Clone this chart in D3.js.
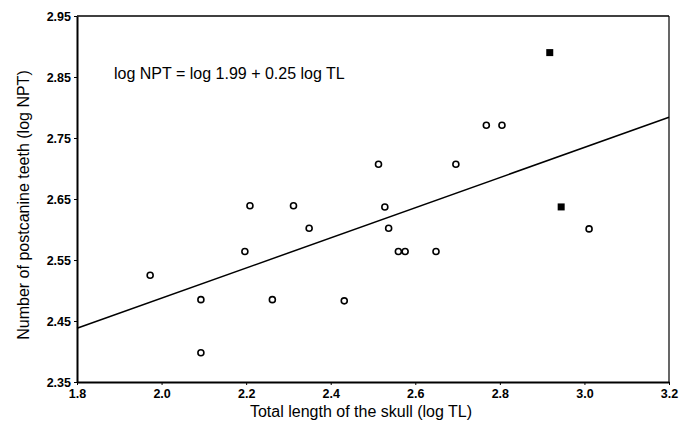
<!DOCTYPE html>
<html>
<head>
<meta charset="utf-8">
<script src="https://cdn.jsdelivr.net/npm/d3@7/dist/d3.min.js"></script>
<style>
  html, body { margin: 0; padding: 0; background: #fff; }
  svg { display: block; font-family: "Liberation Sans", Arial, sans-serif; }
</style>
</head>
<body>
<svg id="chart" width="686" height="427"></svg>
<script>
// Data
const openX = [1.973, 2.093, 2.093, 2.197, 2.209, 2.262, 2.312, 2.349, 2.432, 2.513, 2.528, 2.537, 2.560, 2.576, 2.649, 2.696, 2.768, 2.805, 3.011];
const openY = [2.525, 2.485, 2.398, 2.564, 2.639, 2.485, 2.639, 2.602, 2.483, 2.707, 2.637, 2.602, 2.564, 2.564, 2.564, 2.707, 2.771, 2.771, 2.601];
const filledX = [2.918, 2.945];
const filledY = [2.890, 2.637];
const lineX = [1.8, 3.2];
const lineY = [2.438, 2.784];
const xTicks = [1.8, 2.0, 2.2, 2.4, 2.6, 2.8, 3.0, 3.2];
const yTicks = [2.35, 2.45, 2.55, 2.65, 2.75, 2.85, 2.95];
const equationText = "log NPT = log 1.99 + 0.25 log TL";
const xTitle = "Total length of the skull (log TL)";
const yTitle = "Number of postcanine teeth (log NPT)";

const svg = d3.select("#chart");
const mLeft = 77, mRight = 669, mTop = 16, mBottom = 382;

const x = d3.scaleLinear().domain([1.8, 3.2]).range([mLeft, mRight]);
const y = d3.scaleLinear().domain([2.35, 2.95]).range([mBottom, mTop]);

// Frame: top and right lines
svg.append("line").attr("x1", mLeft).attr("x2", mRight).attr("y1", mTop).attr("y2", mTop)
  .attr("stroke", "#000").attr("stroke-width", 1.6);
svg.append("line").attr("x1", mRight).attr("x2", mRight).attr("y1", mTop).attr("y2", mBottom)
  .attr("stroke", "#000").attr("stroke-width", 1.2);

// Axes
const xAxis = d3.axisBottom(x).tickValues(xTicks).tickSize(3).tickSizeOuter(0)
  .tickFormat(d3.format(".1f"));
const gx = svg.append("g").attr("transform", `translate(0,${mBottom})`).call(xAxis);
gx.select(".domain").attr("stroke-width", 2);
gx.selectAll("text").attr("font-size", 12.5).attr("font-weight", "bold")
  .attr("font-family", "Liberation Sans, Arial, sans-serif").attr("fill", "#000").attr("dy", "0.8em");

const yAxis = d3.axisLeft(y).tickValues(yTicks).tickSize(3).tickSizeOuter(0)
  .tickFormat(d3.format(".2f"));
const gy = svg.append("g").attr("transform", `translate(${mLeft},0)`).call(yAxis);
gy.select(".domain").attr("stroke-width", 2);
gy.selectAll("text").attr("font-size", 12.5).attr("font-weight", "bold")
  .attr("font-family", "Liberation Sans, Arial, sans-serif").attr("fill", "#000").attr("x", -6);

// Regression line
svg.append("path")
  .datum(lineX.map((d, i) => [d, lineY[i]]))
  .attr("d", d3.line().x(d => x(d[0])).y(d => y(d[1])))
  .attr("fill", "none").attr("stroke", "#000").attr("stroke-width", 1.5);

// Open circles
svg.append("g").selectAll("circle")
  .data(openX.map((d, i) => [d, openY[i]]))
  .join("circle")
  .attr("cx", d => x(d[0])).attr("cy", d => y(d[1]))
  .attr("r", 3).attr("fill", "#fff").attr("stroke", "#000").attr("stroke-width", 1.6);

// Filled squares
const sq = 7;
svg.append("g").selectAll("rect")
  .data(filledX.map((d, i) => [d, filledY[i]]))
  .join("rect")
  .attr("x", d => x(d[0]) - sq / 2).attr("y", d => y(d[1]) - sq / 2)
  .attr("width", sq).attr("height", sq).attr("fill", "#000");

// Equation
svg.append("text").attr("x", 114).attr("y", 79)
  .attr("font-size", 16).attr("fill", "#000").text(equationText);

// Axis titles
svg.append("text").attr("x", 361).attr("y", 417)
  .attr("text-anchor", "middle").attr("font-size", 16).attr("fill", "#000").text(xTitle);

svg.append("text").attr("transform", `translate(29,205) rotate(-90)`)
  .attr("text-anchor", "middle").attr("font-size", 16).attr("fill", "#000").text(yTitle);
</script>
</body>
</html>
